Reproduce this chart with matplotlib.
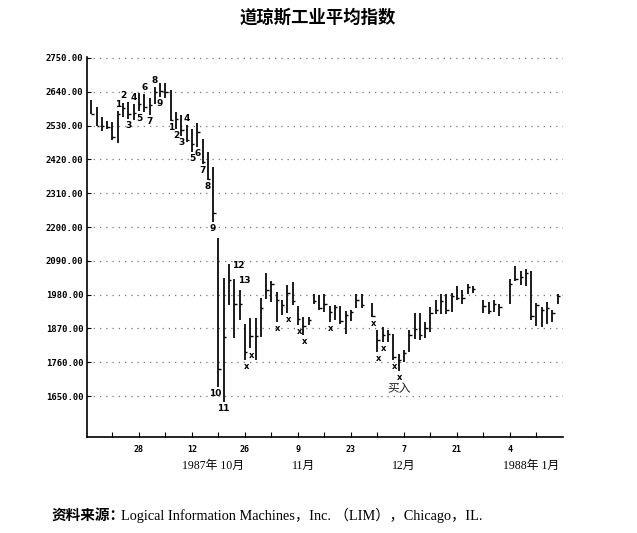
import numpy as np
import matplotlib
matplotlib.use("Agg")
import matplotlib.pyplot as plt
from matplotlib.transforms import blended_transform_factory

plt.rcParams['font.family'] = ['DejaVu Sans', 'Noto Sans CJK SC']

title = "道琼斯工业平均指数"
source_prefix = "资料来源："
source_text = "Logical Information Machines，Inc. （LIM），Chicago，IL."

dates = [
    "1987-09-15", "1987-09-16", "1987-09-17", "1987-09-18", "1987-09-21",
    "1987-09-22", "1987-09-23", "1987-09-24", "1987-09-25", "1987-09-28",
    "1987-09-29", "1987-09-30", "1987-10-01", "1987-10-02", "1987-10-05",
    "1987-10-06", "1987-10-07", "1987-10-08", "1987-10-09", "1987-10-12",
    "1987-10-13", "1987-10-14", "1987-10-15", "1987-10-16", "1987-10-19",
    "1987-10-20", "1987-10-21", "1987-10-22", "1987-10-23", "1987-10-26",
    "1987-10-27", "1987-10-28", "1987-10-29", "1987-10-30", "1987-11-02",
    "1987-11-03", "1987-11-04", "1987-11-05", "1987-11-06", "1987-11-09",
    "1987-11-10", "1987-11-11", "1987-11-12", "1987-11-13", "1987-11-16",
    "1987-11-17", "1987-11-18", "1987-11-19", "1987-11-20", "1987-11-23",
    "1987-11-24", "1987-11-25", "1987-11-27", "1987-11-30", "1987-12-01",
    "1987-12-02", "1987-12-03", "1987-12-04", "1987-12-07", "1987-12-08",
    "1987-12-09", "1987-12-10", "1987-12-11", "1987-12-14", "1987-12-15",
    "1987-12-16", "1987-12-17", "1987-12-18", "1987-12-21", "1987-12-22",
    "1987-12-23", "1987-12-24", "1987-12-28", "1987-12-29", "1987-12-30",
    "1987-12-31", "1988-01-04", "1988-01-05", "1988-01-06", "1988-01-07",
    "1988-01-08", "1988-01-11", "1988-01-12", "1988-01-13", "1988-01-14",
    "1988-01-15",
]

highs = [
    2613, 2589, 2559, 2546, 2543, 2576, 2605, 2608, 2600, 2637,
    2632, 2621, 2654, 2667, 2667, 2645, 2573, 2565, 2533, 2519,
    2537, 2486, 2443, 2396, 2165, 2035, 2080, 2032, 1994, 1883,
    1905, 1905, 1970, 2051, 2026, 1989, 1964, 2010, 2021, 1942,
    1907, 1907, 1981, 1978, 1981, 1942, 1945, 1942, 1927, 1931,
    1983, 1983, 1953, 1866, 1875, 1866, 1853, 1788, 1801, 1866,
    1920, 1920, 1891, 1940, 1964, 1981, 1983, 1985, 2007, 1996,
    2015, 2007, 1964, 1956, 1961, 1948, 2032, 2072, 2057, 2064,
    2057, 1953, 1940, 1956, 1931, 1983,
]

lows = [
    2567, 2528, 2511, 2519, 2483, 2472, 2559, 2551, 2548, 2576,
    2575, 2565, 2600, 2623, 2621, 2545, 2519, 2497, 2476, 2443,
    2459, 2405, 2353, 2216, 1680, 1632, 1945, 1840, 1899, 1767,
    1805, 1767, 1842, 1967, 1956, 1891, 1913, 1920, 1945, 1880,
    1848, 1880, 1951, 1931, 1924, 1891, 1897, 1884, 1853, 1894,
    1938, 1938, 1907, 1794, 1826, 1826, 1769, 1732, 1761, 1794,
    1837, 1834, 1840, 1859, 1918, 1918, 1918, 1924, 1961, 1951,
    1983, 1985, 1920, 1918, 1924, 1910, 1951, 2026, 2010, 2007,
    1897, 1877, 1875, 1883, 1891, 1948,
]

closes = [
    2567, 2530, 2528, 2525, 2493, 2568, 2586, 2566, 2570, 2601,
    2591, 2596, 2639, 2641, 2640, 2549, 2551, 2517, 2482, 2471,
    2508, 2413, 2355, 2247, 1739, 1841, 2028, 1950, 1951, 1794,
    1846, 1847, 1938, 1994, 2014, 1964, 1945, 1985, 1959, 1900,
    1878, 1899, 1960, 1935, 1949, 1922, 1939, 1895, 1914, 1923,
    1964, 1947, 1910, 1834, 1849, 1853, 1777, 1767, 1790, 1848,
    1868, 1850, 1870, 1920, 1930, 1960, 1930, 1975, 1970, 1969,
    2006, 2000, 1943, 1927, 1950, 1939, 2015, 2032, 2038, 2052,
    1911, 1945, 1929, 1936, 1920, 1976,
]

# TD setup count labels
td_text = ["1", "2", "3", "4", "5", "6", "7", "8", "9",
           "1", "2", "3", "4", "5", "6", "7", "8", "9", "10", "11", "12", "13"]
td_dates = ["1987-09-22", "1987-09-23", "1987-09-24", "1987-09-25", "1987-09-28",
            "1987-09-29", "1987-09-30", "1987-10-01", "1987-10-02",
            "1987-10-06", "1987-10-07", "1987-10-08", "1987-10-09", "1987-10-12",
            "1987-10-13", "1987-10-14", "1987-10-15", "1987-10-16", "1987-10-19",
            "1987-10-20", "1987-10-21", "1987-10-22"]
td_side = ["above", "above", "below", "above", "below", "above", "below", "above", "below",
           "below", "below", "below", "above", "below", "below", "below", "below", "below",
           "below", "below", "right", "right"]

x_dates = ["1987-10-26", "1987-10-27", "1987-11-03", "1987-11-05", "1987-11-09",
           "1987-11-10", "1987-11-17", "1987-11-27", "1987-11-30", "1987-12-01",
           "1987-12-03", "1987-12-04"]
buy_label = "买入"
buy_date = "1987-12-04"

yticks = [2750, 2640, 2530, 2420, 2310, 2200, 2090, 1980, 1870, 1760, 1650]
week_ticks = ["1987-09-21", "1987-09-28", "1987-10-05", "1987-10-12", "1987-10-19",
              "1987-10-26", "1987-11-02", "1987-11-09", "1987-11-16", "1987-11-23",
              "1987-11-30", "1987-12-07", "1987-12-14", "1987-12-21", "1987-12-28",
              "1988-01-04", "1988-01-11"]
week_labels = ["", "28", "", "12", "", "26", "", "9", "", "23", "", "7", "", "21", "", "4", ""]
month_labels = ["1987年 10月", "11月", "12月", "1988年 1月"]
month_dates = ["1987-10-16", "1987-11-10", "1987-12-07", "1988-01-08"]

origin = "1987-09-14"


def xpos(ds):
    return np.busday_count(origin, np.array(ds, dtype="datetime64[D]")).astype(float)


x = xpos(dates)
hi = np.array(highs, float)
lo = np.array(lows, float)
cl = np.array(closes, float)
lookup = {d: k for k, d in enumerate(dates)}

W, H = 637, 533
fig = plt.figure(figsize=(W / 100, H / 100), dpi=100)
ax = fig.add_axes([87 / W, 1 - 437 / H, (563 - 87) / W, (437 - 57) / H])

ax.vlines(x, lo, hi, color="black", linewidth=1.25)
ax.hlines(cl, x, x + 0.45, color="black", linewidth=1.0)

ax.set_xlim(0.2, 90.0)
ax.set_ylim(1517, 2753)

ax.set_yticks(yticks)
ax.set_yticklabels([f"{v:.2f}" for v in yticks], family="DejaVu Sans Mono",
                   fontsize=6.4, fontweight="bold")
ax.set_xticks(xpos(week_ticks))
ax.set_xticklabels(week_labels, family="DejaVu Sans Mono", fontsize=6, fontweight="bold")
ax.tick_params(axis="y", direction="in", length=3, width=0.8, pad=2.5)
ax.tick_params(axis="x", direction="in", length=3.5, width=0.8, pad=6)

for s in ["top", "right"]:
    ax.spines[s].set_visible(False)
for s in ["left", "bottom"]:
    ax.spines[s].set_linewidth(1.2)

ax.grid(axis="y", linestyle=(0, (1, 4)), color="#777777", linewidth=0.9)
ax.set_axisbelow(True)

lab_kw = dict(fontsize=6.5, fontweight="bold", family="DejaVu Sans", color="black")
for t, d, side in zip(td_text, td_dates, td_side):
    k = lookup[d]
    if side == "above":
        ax.annotate(t, (x[k], hi[k]), xytext=(0, 1.5), textcoords="offset points",
                    ha="center", va="bottom", **lab_kw)
    elif side == "below":
        dx = -2.0 if t == "10" else 0
        ax.annotate(t, (x[k], lo[k]), xytext=(dx, -1.5), textcoords="offset points",
                    ha="center", va="top", **lab_kw)
    else:
        ax.annotate(t, (x[k], hi[k]), xytext=(2.5, -1), textcoords="offset points",
                    ha="left", va="center", **lab_kw)

for d in x_dates:
    k = lookup[d]
    ax.annotate("x", (x[k], lo[k]), xytext=(0.8, -1.5), textcoords="offset points",
                ha="center", va="top", fontsize=6, fontweight="bold", family="DejaVu Sans")

kb = lookup[buy_date]
ax.annotate(buy_label, (x[kb], lo[kb]), xytext=(0, -8), textcoords="offset points",
            ha="center", va="top", fontsize=8.5, family=["Noto Sans CJK SC"], color="#222222")

tr = blended_transform_factory(ax.transData, fig.transFigure)
for t, d in zip(month_labels, month_dates):
    ax.text(xpos([d])[0], 1 - 466 / H, t, transform=tr, ha="center", va="center",
            fontsize=8.5, family=["Liberation Serif", "Noto Sans CJK SC"])

fig.text(318 / W, 1 - 18 / H, title, ha="center", va="center", fontsize=12.5,
         fontweight="bold", family=["Noto Sans CJK SC"])
fig.text(52 / W, 1 - 515 / H, source_prefix, ha="left", va="center", fontsize=10.5,
         fontweight="bold", family=["Noto Sans CJK SC"])
fig.text(121 / W, 1 - 515 / H, source_text, ha="left", va="center", fontsize=10.3,
         family=["Liberation Serif", "Noto Sans CJK SC"])

fig.savefig("out.png", dpi=100)
